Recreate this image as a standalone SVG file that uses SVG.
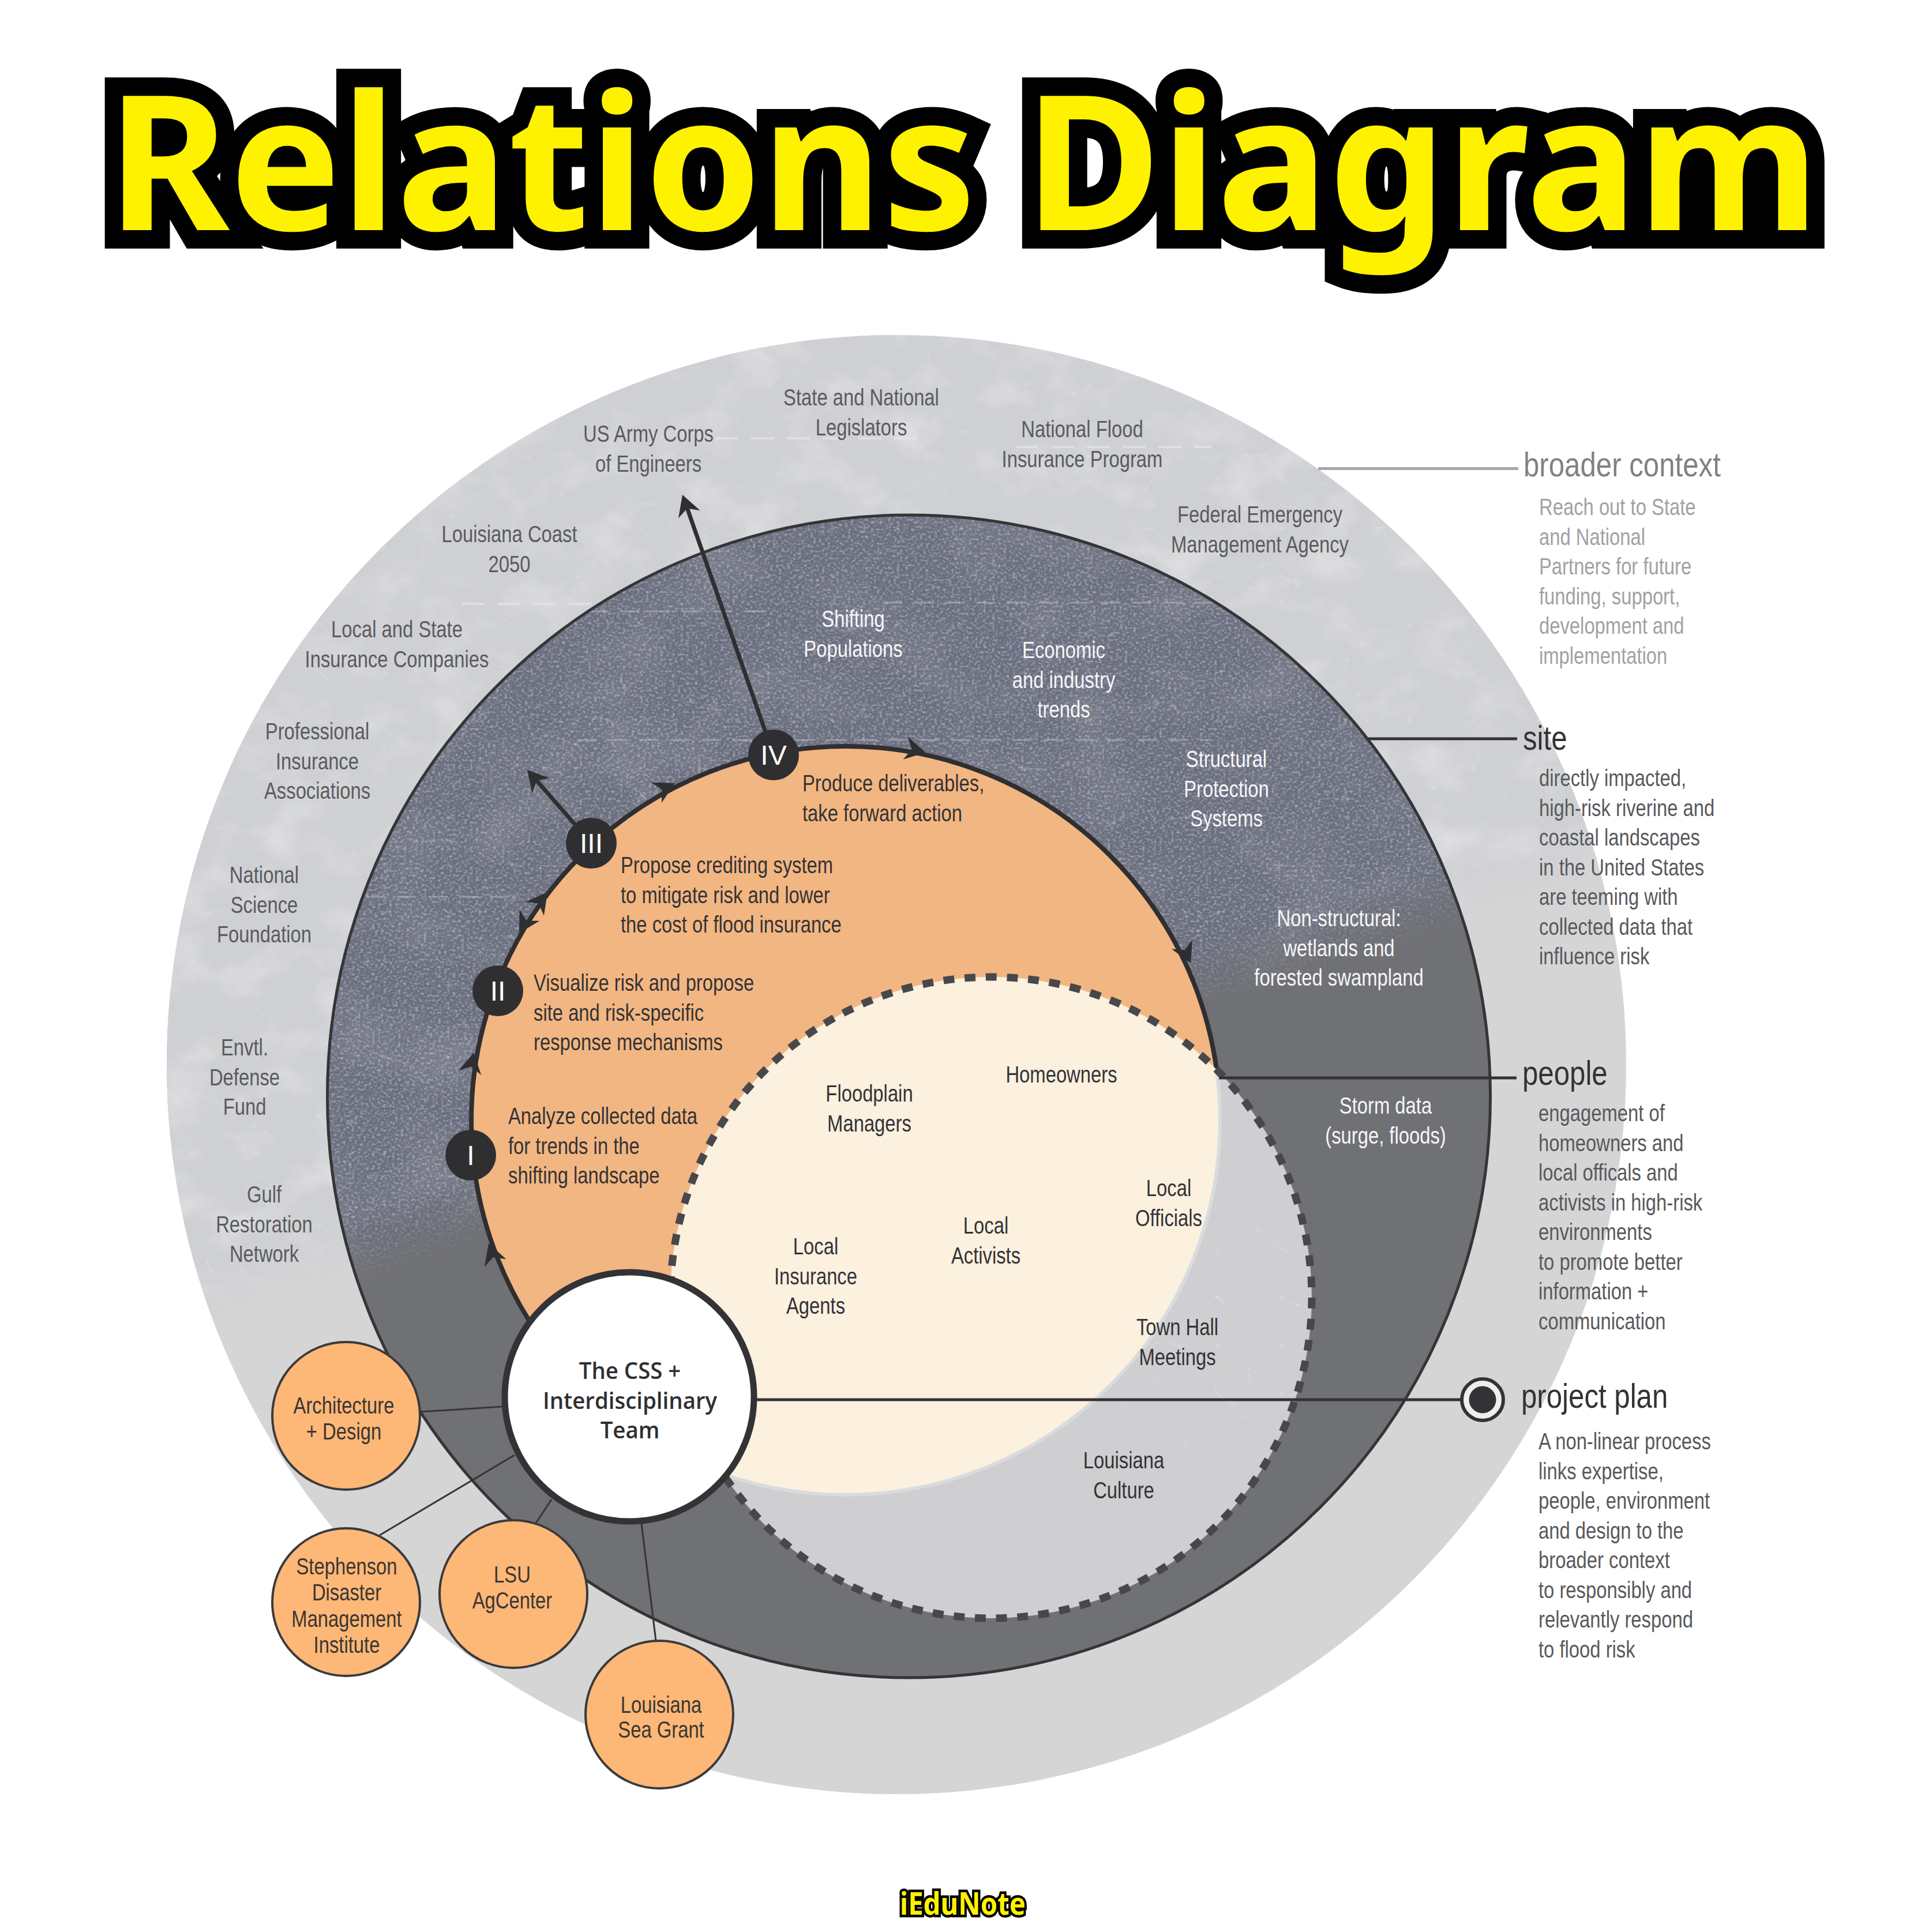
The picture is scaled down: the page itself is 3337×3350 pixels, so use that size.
<svg xmlns="http://www.w3.org/2000/svg" width="3337" height="3350" viewBox="0 0 3337 3350">
<style>
text{font-family:"Liberation Sans",Arial,sans-serif;font-size:40px}
.c{text-anchor:middle}
.o{fill:#5a5b5e}
.w{fill:#f6f6f8}
.i{fill:#333336}
.h{font-size:60px}
.b1{fill:#a0a1a4}
.b2{fill:#58595c}
.title{font-family:"Noto Sans","Open Sans",sans-serif;font-weight:700;fill:#fff200;stroke:#000;paint-order:stroke;stroke-linejoin:miter;stroke-miterlimit:2.5}
.t1{font-size:326px;stroke-width:64px}
.t2{font-size:53px;stroke-width:9px}
.team{font-family:"Open Sans","Noto Sans",sans-serif;font-weight:600;font-size:40px;fill:#2f2f31;text-anchor:middle}
.num{fill:#fff;font-size:48px;text-anchor:middle}
.badge{fill:#2f2f31}
.sm{fill:#fdb777;stroke:#3a3a3c;stroke-width:4}
.smt{fill:#3a3632;text-anchor:middle}
.lk{stroke:#353537;stroke-width:3;fill:none}
.arc{stroke:#2f2f31;stroke-width:7;fill:none}
.hd{fill:#2f2f31}
.ld{stroke-width:5;fill:none}
</style>
<defs>
<path id="head" d="M0,0L-36,-20L-25,0L-36,20Z"/>
<clipPath id="cOuter"><circle cx="1554" cy="1846" r="1265"/></clipPath>
<clipPath id="cDark"><circle cx="1575.500" cy="1901" r="1008"/></clipPath>
<clipPath id="cDash"><circle cx="1718" cy="2250" r="556"/></clipPath>
<filter id="mottle" filterUnits="userSpaceOnUse" x="0" y="500" width="3337" height="2700">
<feTurbulence type="fractalNoise" baseFrequency="0.011 0.014" numOctaves="7" seed="7"/>
<feColorMatrix values="0 0 0 0 1 0 0 0 0 1 0 0 0 0 1 2.4 0 0 0 -1.15"/>
</filter>
<filter id="veins" filterUnits="userSpaceOnUse" x="0" y="500" width="3337" height="2700">
<feTurbulence type="turbulence" baseFrequency="0.009 0.012" numOctaves="5" seed="11"/>
<feColorMatrix values="0 0 0 0 0.86 0 0 0 0 0.87 0 0 0 0 0.93 -9 0 0 0 1"/>
</filter>
<filter id="speck" filterUnits="userSpaceOnUse" x="0" y="500" width="3337" height="2700">
<feTurbulence type="fractalNoise" baseFrequency="0.2 0.24" numOctaves="3" seed="21"/>
<feColorMatrix values="0 0 0 0 0.76 0 0 0 0 0.78 0 0 0 0 0.86 0 3 0 0 -1.4"/>
</filter>
<filter id="blotch" filterUnits="userSpaceOnUse" x="0" y="500" width="3337" height="2700">
<feTurbulence type="fractalNoise" baseFrequency="0.006 0.008" numOctaves="7" seed="3"/>
<feColorMatrix values="0 0 0 0 0.2 0 0 0 0 0.21 0 0 0 0 0.26 0 0 2.8 0 -1.3"/>
</filter>
<linearGradient id="fg" gradientUnits="userSpaceOnUse" x1="1423" y1="1552" x2="1546" y2="1933">
<stop offset="0" stop-color="#fff"/><stop offset="0.7" stop-color="#fff"/><stop offset="1" stop-color="#000"/>
</linearGradient>
<radialGradient id="sg" gradientUnits="userSpaceOnUse" cx="2180" cy="2300" r="300">
<stop offset="0" stop-color="#fff"/><stop offset="1" stop-color="#000"/>
</radialGradient>
<mask id="fade" maskUnits="userSpaceOnUse" x="0" y="0" width="3337" height="3350"><rect width="3337" height="3350" fill="url(#fg)"/></mask>
<mask id="spot" maskUnits="userSpaceOnUse" x="0" y="0" width="3337" height="3350"><rect width="3337" height="3350" fill="url(#sg)"/></mask>
</defs>
<rect width="3337" height="3350" fill="#fff"/>

<g id="title"><text class="title t1" x="186" y="399" textLength="2968" lengthAdjust="spacingAndGlyphs">Relations Diagram</text></g>

<g id="ring-broader-context">
<circle cx="1554" cy="1846" r="1265" fill="#d5d5d6"/>
<g mask="url(#fade)" clip-path="url(#cOuter)">
<rect x="280" y="570" width="2550" height="2200" fill="#cfd0d3"/>
<rect x="280" y="570" width="2550" height="2200" filter="url(#mottle)" opacity=".3"/>
<rect x="280" y="570" width="2550" height="2200" filter="url(#veins)" opacity=".3"/>
<path d="M1240 760H1600M1760 775H2100M800 1047H1100" stroke="#e6e6e9" stroke-width="4" stroke-dasharray="40 22" fill="none" opacity=".7"/>
</g>
</g>

<g id="ring-site">
<circle cx="1575.500" cy="1901" r="1008" fill="#707174"/>
<g mask="url(#fade)" clip-path="url(#cDark)">
<rect x="560" y="890" width="2040" height="1900" fill="#6a6e7e"/>
<rect x="560" y="890" width="2040" height="1900" filter="url(#blotch)" opacity=".85"/>
<rect x="560" y="890" width="2040" height="1900" filter="url(#veins)" opacity=".3"/>
<rect x="560" y="890" width="2040" height="1900" filter="url(#speck)" opacity=".45"/>
<path d="M580 1555H900M1020 1060H1330M1530 1045H2400M1000 1283H2100" stroke="#c5c8d4" stroke-width="3" stroke-dasharray="34 20" fill="none" opacity=".45"/>
</g>
<circle cx="1575.500" cy="1901" r="1008" fill="none" stroke="#353537" stroke-width="5"/>
</g>

<g id="leader-lines">
<path class="ld" d="M2285 812.500H2632" stroke="#a6a7a9"/>
<path class="ld" d="M2372 1281H2630" stroke="#333335"/>
</g>

<g id="ring-people">
<circle cx="1466" cy="1943" r="649" fill="#f2b682" stroke="#2f2f31" stroke-width="8"/>
</g>

<g id="zone-dashed">
<circle cx="1718" cy="2250" r="556" fill="#cfced1"/>
<g clip-path="url(#cDash)" mask="url(#spot)"><rect x="1800" y="1900" width="600" height="900" filter="url(#veins)" opacity=".7"/></g>
<g clip-path="url(#cDash)">
<circle cx="1466" cy="1943" r="652" fill="#d9dcde"/>
<circle cx="1466" cy="1943" r="646" fill="#fcf0df"/>
</g>
<circle cx="1718" cy="2250" r="556" fill="none" stroke="#48484b" stroke-width="13" stroke-dasharray="19 18" pathLength="3515"/>
</g>

<g id="connectors">
<path class="ld" d="M2113 1869H2629" stroke="#333335"/>
<path class="ld" d="M1312 2427H2535" stroke="#333335"/>
<path class="lk" d="M729 2448L870 2439"/>
<path class="lk" d="M658 2662L892 2523"/>
<path class="lk" d="M929 2641L956 2600"/>
<path class="lk" d="M1137 2845L1112 2642"/>
<path class="arc" d="M1341 1309L1187 869"/>
<path class="arc" d="M1025 1462L922 1344"/>
<use href="#head" class="hd" transform="translate(1183 858) rotate(-109.300)"/>
<use href="#head" class="hd" transform="translate(914 1335) rotate(-131.200)"/>
<use href="#head" class="hd" transform="translate(1605 1305) rotate(12.300)"/>
<use href="#head" class="hd" transform="translate(1170 1358) rotate(-26.800)"/>
<use href="#head" class="hd" transform="translate(949 1547) rotate(-52.500)"/>
<use href="#head" class="hd" transform="translate(900 1618) rotate(119.900)"/>
<use href="#head" class="hd" transform="translate(821 1825) rotate(-79.600)"/>
<use href="#head" class="hd" transform="translate(847 2156) rotate(-109)"/>
<use href="#head" class="hd" transform="translate(2064 1670) rotate(65.500)"/>
</g>

<g id="labels-broader">
<text class="c o" transform="matrix(.82 0 0 1 1493 703)">State and National</text><text class="c o" transform="matrix(.82 0 0 1 1493 754.500)">Legislators</text>
<text class="c o" transform="matrix(.82 0 0 1 1124 766)">US Army Corps</text><text class="c o" transform="matrix(.82 0 0 1 1124 817.500)">of Engineers</text>
<text class="c o" transform="matrix(.82 0 0 1 1876 758)">National Flood</text><text class="c o" transform="matrix(.82 0 0 1 1876 809.500)">Insurance Program</text>
<text class="c o" transform="matrix(.82 0 0 1 2184 906)">Federal Emergency</text><text class="c o" transform="matrix(.82 0 0 1 2184 957.500)">Management Agency</text>
<text class="c o" transform="matrix(.82 0 0 1 883 940)">Louisiana Coast</text><text class="c o" transform="matrix(.82 0 0 1 883 991.500)">2050</text>
<text class="c o" transform="matrix(.82 0 0 1 688 1105)">Local and State</text><text class="c o" transform="matrix(.82 0 0 1 688 1156.500)">Insurance Companies</text>
<text class="c o" transform="matrix(.82 0 0 1 550 1282)">Professional</text><text class="c o" transform="matrix(.82 0 0 1 550 1333.500)">Insurance</text><text class="c o" transform="matrix(.82 0 0 1 550 1385)">Associations</text>
<text class="c o" transform="matrix(.82 0 0 1 458 1531)">National</text><text class="c o" transform="matrix(.82 0 0 1 458 1582.500)">Science</text><text class="c o" transform="matrix(.82 0 0 1 458 1634)">Foundation</text>
<text class="c o" transform="matrix(.82 0 0 1 424 1830)">Envtl.</text><text class="c o" transform="matrix(.82 0 0 1 424 1881.500)">Defense</text><text class="c o" transform="matrix(.82 0 0 1 424 1933)">Fund</text>
<text class="c o" transform="matrix(.82 0 0 1 458 2085)">Gulf</text><text class="c o" transform="matrix(.82 0 0 1 458 2136.500)">Restoration</text><text class="c o" transform="matrix(.82 0 0 1 458 2188)">Network</text>
</g>
<g id="labels-site">
<text class="c w" transform="matrix(.82 0 0 1 1479 1087)">Shifting</text><text class="c w" transform="matrix(.82 0 0 1 1479 1138.500)">Populations</text>
<text class="c w" transform="matrix(.82 0 0 1 1844 1141)">Economic</text><text class="c w" transform="matrix(.82 0 0 1 1844 1192.500)">and industry</text><text class="c w" transform="matrix(.82 0 0 1 1844 1244)">trends</text>
<text class="c w" transform="matrix(.82 0 0 1 2126 1330)">Structural</text><text class="c w" transform="matrix(.82 0 0 1 2126 1381.500)">Protection</text><text class="c w" transform="matrix(.82 0 0 1 2126 1433)">Systems</text>
<text class="c w" transform="matrix(.82 0 0 1 2321 1606)">Non-structural:</text><text class="c w" transform="matrix(.82 0 0 1 2321 1657.500)">wetlands and</text><text class="c w" transform="matrix(.82 0 0 1 2321 1709)">forested swampland</text>
<text class="c w" transform="matrix(.82 0 0 1 2402 1931)">Storm data</text><text class="c w" transform="matrix(.82 0 0 1 2402 1982.500)">(surge, floods)</text>
</g>
<g id="labels-people">
<text class="c i" transform="matrix(.82 0 0 1 1507 1910)">Floodplain</text><text class="c i" transform="matrix(.82 0 0 1 1507 1961.500)">Managers</text>
<text class="c i" transform="matrix(.82 0 0 1 1840 1877)">Homeowners</text>
<text class="c i" transform="matrix(.82 0 0 1 2026 2074)">Local</text><text class="c i" transform="matrix(.82 0 0 1 2026 2125.500)">Officials</text>
<text class="c i" transform="matrix(.82 0 0 1 1709 2139)">Local</text><text class="c i" transform="matrix(.82 0 0 1 1709 2190.500)">Activists</text>
<text class="c i" transform="matrix(.82 0 0 1 1414 2175)">Local</text><text class="c i" transform="matrix(.82 0 0 1 1414 2226.500)">Insurance</text><text class="c i" transform="matrix(.82 0 0 1 1414 2278)">Agents</text>
<text class="c i" transform="matrix(.82 0 0 1 2041 2315)">Town Hall</text><text class="c i" transform="matrix(.82 0 0 1 2041 2366.500)">Meetings</text>
<text class="c i" transform="matrix(.82 0 0 1 1948 2546)">Louisiana</text><text class="c i" transform="matrix(.82 0 0 1 1948 2597.500)">Culture</text>
</g>
<g id="labels-steps">
<text class="i" transform="matrix(.82 0 0 1 1391 1372)">Produce deliverables,</text><text class="i" transform="matrix(.82 0 0 1 1391 1423.500)">take forward action</text>
<text class="i" transform="matrix(.82 0 0 1 1076 1514)">Propose crediting system</text><text class="i" transform="matrix(.82 0 0 1 1076 1565.500)">to mitigate risk and lower</text><text class="i" transform="matrix(.82 0 0 1 1076 1617)">the cost of flood insurance</text>
<text class="i" transform="matrix(.82 0 0 1 925 1718)">Visualize risk and propose</text><text class="i" transform="matrix(.82 0 0 1 925 1769.500)">site and risk-specific</text><text class="i" transform="matrix(.82 0 0 1 925 1821)">response mechanisms</text>
<text class="i" transform="matrix(.82 0 0 1 881 1949)">Analyze collected data</text><text class="i" transform="matrix(.82 0 0 1 881 2000.500)">for trends in the</text><text class="i" transform="matrix(.82 0 0 1 881 2052)">shifting landscape</text>
</g>

<g id="step-1"><circle class="badge" cx="816" cy="2003" r="44"/><text class="num" x="816" y="2020">I</text></g>
<g id="step-2"><circle class="badge" cx="863" cy="1718" r="44"/><text class="num" x="863" y="1735">II</text></g>
<g id="step-3"><circle class="badge" cx="1025" cy="1462" r="44"/><text class="num" x="1025" y="1479">III</text></g>
<g id="step-4"><circle class="badge" cx="1341" cy="1309" r="44"/><text class="num" x="1341" y="1326">IV</text></g>

<g id="node-team"><circle cx="1091" cy="2422" r="216" fill="#fff" stroke="#333335" stroke-width="11"/>
<text class="team" transform="matrix(.96 0 0 1 1092 2391)">The CSS +</text><text class="team" transform="matrix(.96 0 0 1 1092 2443)">Interdisciplinary</text><text class="team" transform="matrix(.96 0 0 1 1092 2494)">Team</text></g>
<g id="node-architecture"><circle class="sm" cx="600" cy="2455" r="128"/><text class="smt" transform="matrix(.82 0 0 1 596 2451)">Architecture</text><text class="smt" transform="matrix(.82 0 0 1 596 2496)">+ Design</text></g>
<g id="node-stephenson"><circle class="sm" cx="600" cy="2778" r="128"/><text class="smt" transform="matrix(.82 0 0 1 601 2730)">Stephenson</text><text class="smt" transform="matrix(.82 0 0 1 601 2775)">Disaster</text><text class="smt" transform="matrix(.82 0 0 1 601 2821)">Management</text><text class="smt" transform="matrix(.82 0 0 1 601 2866)">Institute</text></g>
<g id="node-lsu"><circle class="sm" cx="890" cy="2764" r="128"/><text class="smt" transform="matrix(.82 0 0 1 888 2744)">LSU</text><text class="smt" transform="matrix(.82 0 0 1 888 2789)">AgCenter</text></g>
<g id="node-seagrant"><circle class="sm" cx="1143" cy="2973" r="128"/><text class="smt" transform="matrix(.82 0 0 1 1146 2970)">Louisiana</text><text class="smt" transform="matrix(.82 0 0 1 1146 3013)">Sea Grant</text></g>

<g id="node-bullseye"><circle cx="2570" cy="2427" r="36" fill="#fff" fill-opacity=".6" stroke="#333335" stroke-width="6"/><circle cx="2570" cy="2427" r="23.500" fill="#333335"/></g>

<g id="legend-broader">
<text class="h" transform="matrix(.82 0 0 1 2641 826)" fill="#808285">broader context</text>
<text class="b1" transform="matrix(.82 0 0 1 2668 893)">Reach out to State</text><text class="b1" transform="matrix(.82 0 0 1 2668 944.500)">and National</text><text class="b1" transform="matrix(.82 0 0 1 2668 996)">Partners for future</text><text class="b1" transform="matrix(.82 0 0 1 2668 1047.500)">funding, support,</text><text class="b1" transform="matrix(.82 0 0 1 2668 1099)">development and</text><text class="b1" transform="matrix(.82 0 0 1 2668 1150.500)">implementation</text>
</g>
<g id="legend-site">
<text class="h" transform="matrix(.82 0 0 1 2640 1300)" fill="#333335">site</text>
<text class="b2" transform="matrix(.82 0 0 1 2668 1363)">directly impacted,</text><text class="b2" transform="matrix(.82 0 0 1 2668 1414.500)">high-risk riverine and</text><text class="b2" transform="matrix(.82 0 0 1 2668 1466)">coastal landscapes</text><text class="b2" transform="matrix(.82 0 0 1 2668 1517.500)">in the United States</text><text class="b2" transform="matrix(.82 0 0 1 2668 1569)">are teeming with</text><text class="b2" transform="matrix(.82 0 0 1 2668 1620.500)">collected data that</text><text class="b2" transform="matrix(.82 0 0 1 2668 1672)">influence risk</text>
</g>
<g id="legend-people">
<text class="h" transform="matrix(.82 0 0 1 2639 1881)" fill="#333335">people</text>
<text class="b2" transform="matrix(.82 0 0 1 2667 1944)">engagement of</text><text class="b2" transform="matrix(.82 0 0 1 2667 1995.500)">homeowners and</text><text class="b2" transform="matrix(.82 0 0 1 2667 2047)">local officals and</text><text class="b2" transform="matrix(.82 0 0 1 2667 2098.500)">activists in high-risk</text><text class="b2" transform="matrix(.82 0 0 1 2667 2150)">environments</text><text class="b2" transform="matrix(.82 0 0 1 2667 2201.500)">to promote better</text><text class="b2" transform="matrix(.82 0 0 1 2667 2253)">information +</text><text class="b2" transform="matrix(.82 0 0 1 2667 2304.500)">communication</text>
</g>
<g id="legend-plan">
<text class="h" transform="matrix(.82 0 0 1 2637 2441)" fill="#333335">project plan</text>
<text class="b2" transform="matrix(.82 0 0 1 2667 2513)">A non-linear process</text><text class="b2" transform="matrix(.82 0 0 1 2667 2564.500)">links expertise,</text><text class="b2" transform="matrix(.82 0 0 1 2667 2616)">people, environment</text><text class="b2" transform="matrix(.82 0 0 1 2667 2667.500)">and design to the</text><text class="b2" transform="matrix(.82 0 0 1 2667 2719)">broader context</text><text class="b2" transform="matrix(.82 0 0 1 2667 2770.500)">to responsibly and</text><text class="b2" transform="matrix(.82 0 0 1 2667 2822)">relevantly respond</text><text class="b2" transform="matrix(.82 0 0 1 2667 2873.500)">to flood risk</text>
</g>

<g id="logo"><text class="title t2" x="1560" y="3320" textLength="218" lengthAdjust="spacingAndGlyphs">iEduNote</text></g>
</svg>
